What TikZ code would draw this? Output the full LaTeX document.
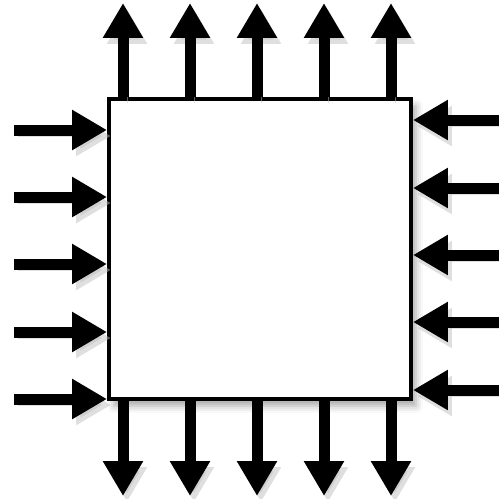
\documentclass[tikz,border=0pt]{standalone}
\usetikzlibrary{arrows.meta, shadows.blur}

\begin{document}
\begin{tikzpicture}[
  x=0.02cm, y=-0.02cm,
  pin/.style={-{Triangle[width=0.76cm, length=0.7cm]}, line width=0.22cm,
              preaction={draw=black!25, opacity=0.5,
                         transform canvas={shift={(0.08cm,-0.12cm)}}}},
  chip/.style={draw, line width=0.08cm, fill=white,
               minimum width=6.04cm, minimum height=6.0cm, inner sep=0pt,
               blur shadow={shadow xshift=0.1cm, shadow yshift=-0.14cm,
                            shadow blur radius=0.14cm, shadow opacity=35}}
]
\useasboundingbox (0,0) rectangle (499,498);

% --- Central block ---
\node[chip] (chip) at (260,249) {};

% --- Outputs, top and bottom ---
\foreach \x [count=\i] in {123,190,257,324,391} {
  \coordinate (top\i) at (\x,3);
  \coordinate (bot\i) at (\x,496);
  \draw[pin] (chip.north -| top\i) -- (top\i);
  \draw[pin] (chip.south -| bot\i) -- (bot\i);
}

% --- Inputs, left ---
\foreach \y [count=\i] in {130,197,264,332,399} {
  \coordinate (lft\i) at (14,\y);
  \draw[pin] (lft\i) -- (chip.west |- lft\i);
}

% --- Inputs, right ---
\foreach \y [count=\i] in {120,188,255,322,390} {
  \coordinate (rgt\i) at (506,\y);
  \draw[pin] (rgt\i) -- (chip.east |- rgt\i);
}

\end{tikzpicture}
\end{document}
